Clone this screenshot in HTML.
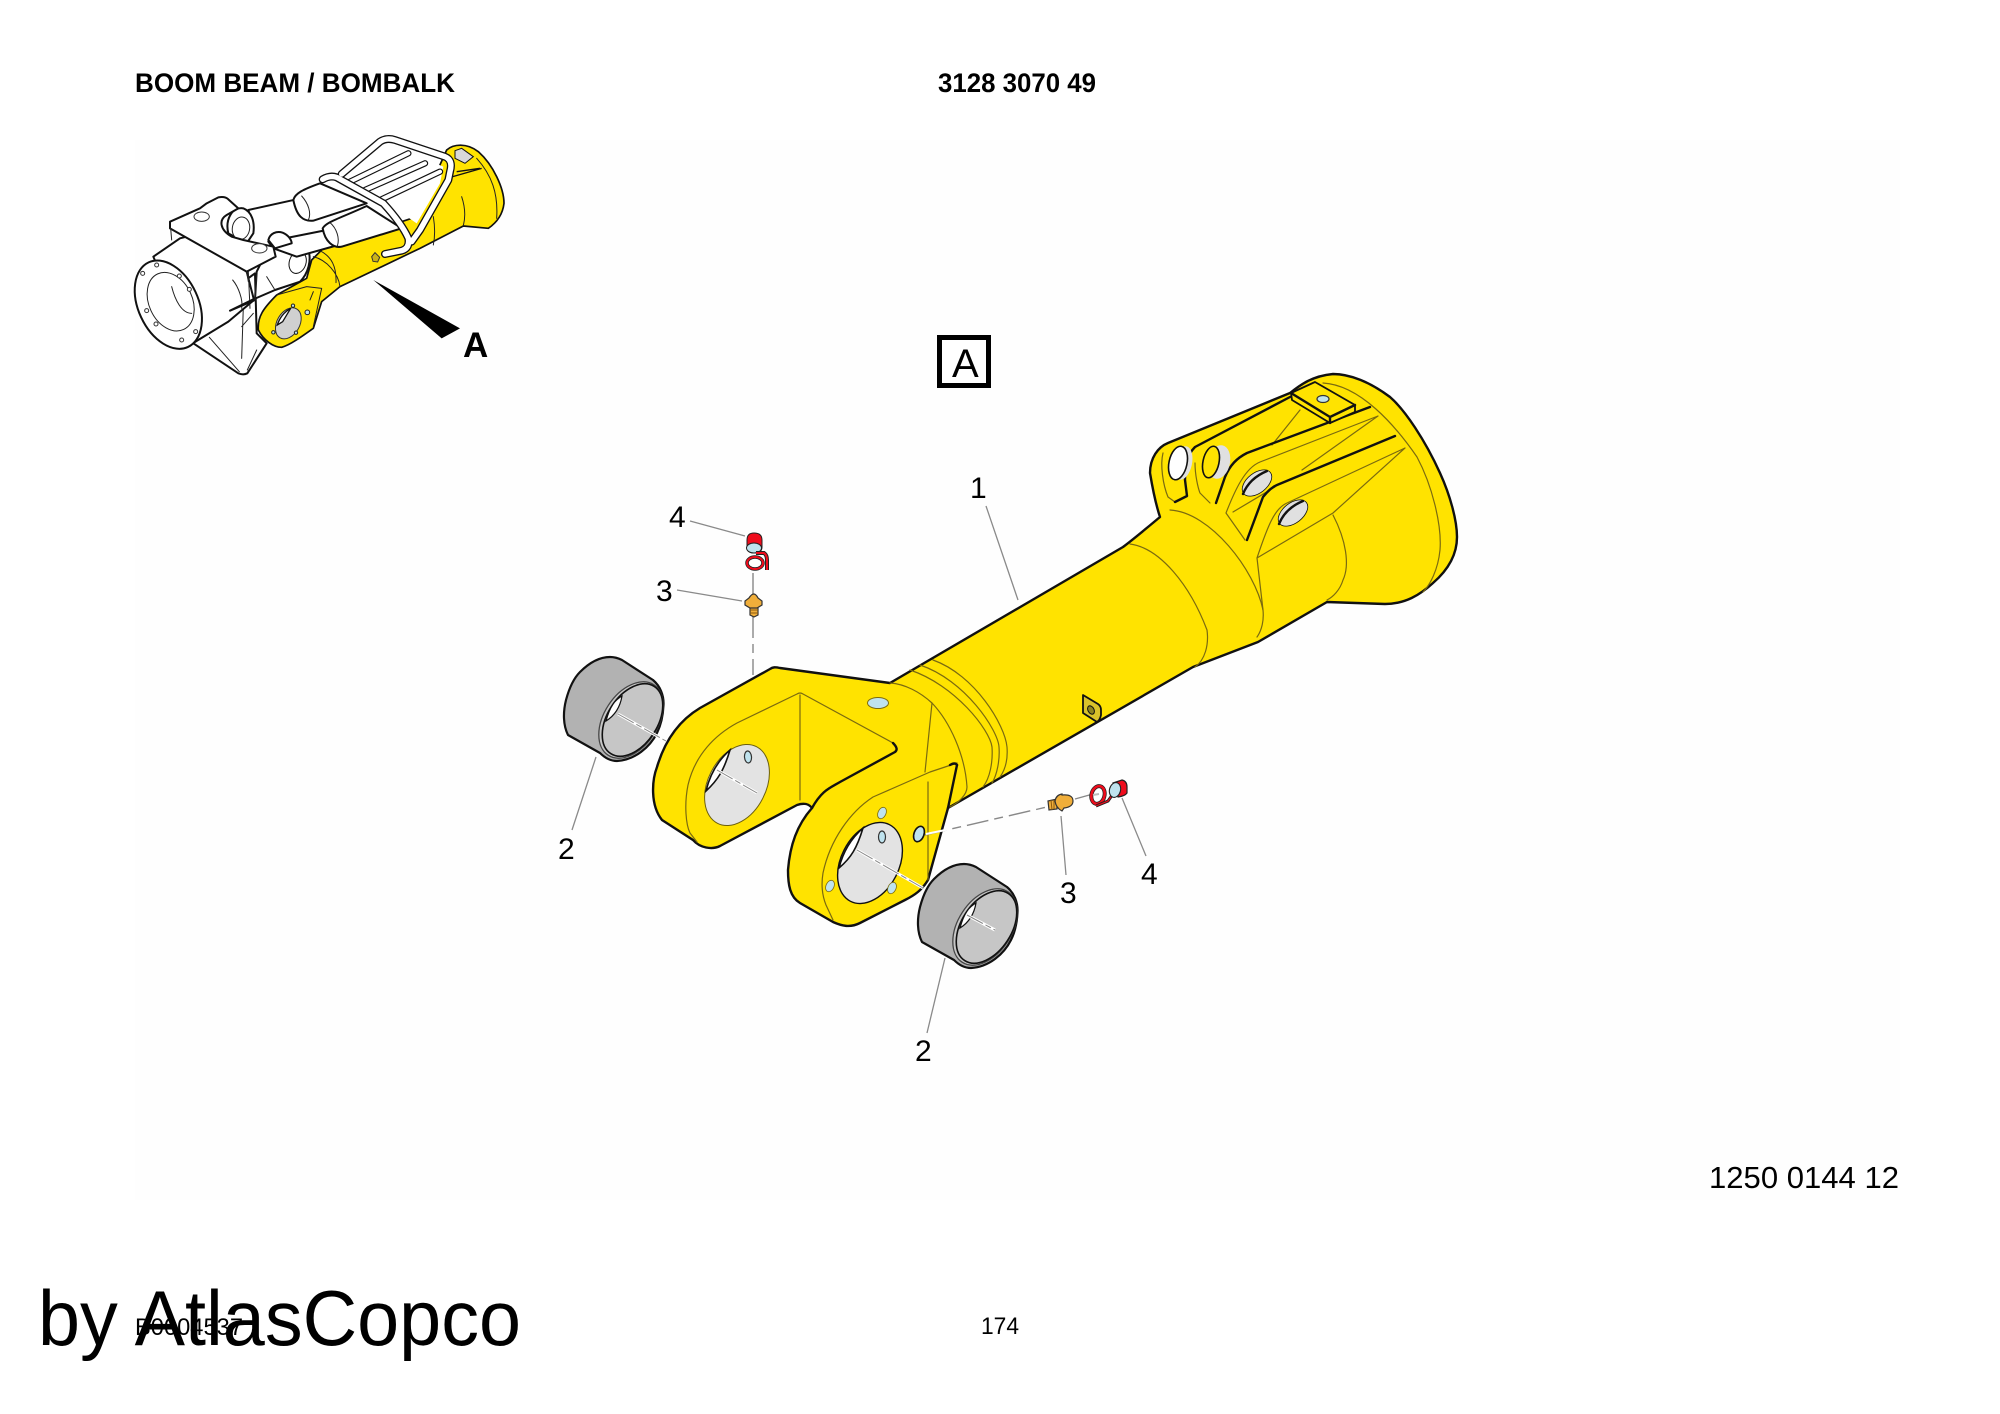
<!DOCTYPE html>
<html><head><meta charset="utf-8"><style>
html,body{margin:0;padding:0;background:#fff}
svg{display:block}
text{font-family:"Liberation Sans",sans-serif;fill:#000}
.b{fill:none;stroke:#111;stroke-width:2.4;stroke-linejoin:round;stroke-linecap:round}
.t{fill:none;stroke:#7a6a10;stroke-width:1.2;stroke-linecap:round;stroke-linejoin:round}
.l{stroke:#8a8a8a;stroke-width:1.3;fill:none}
.d{stroke:#888;stroke-width:1.4;fill:none;stroke-dasharray:22 6 9 6}
.w{stroke:#fff;stroke-width:3;fill:none}
.h{fill:#bfe3ee;stroke:#333;stroke-width:1.2}
.z{fill:#fff;stroke:#111;stroke-width:6;stroke-linejoin:round;stroke-linecap:round}
.y{fill:none;stroke:#222;stroke-width:3;stroke-linecap:round;stroke-linejoin:round}
.k{fill:none;stroke-linecap:round;stroke-linejoin:round}
</style></head><body>
<svg width="2000" height="1414" viewBox="0 0 2000 1414" xmlns="http://www.w3.org/2000/svg">
<rect width="2000" height="1414" fill="#fff"/>
<rect x="135" y="140" width="1765" height="1060" fill="#fefefe"/>

<text x="135" y="92" font-size="27" font-weight="bold" textLength="320" lengthAdjust="spacingAndGlyphs">BOOM BEAM / BOMBALK</text>
<text x="938" y="92" font-size="27" font-weight="bold" textLength="158" lengthAdjust="spacingAndGlyphs">3128 3070 49</text>
<text x="1709" y="1188" font-size="31" textLength="190" lengthAdjust="spacingAndGlyphs">1250 0144 12</text>
<text x="981" y="1334" font-size="24" textLength="38" lengthAdjust="spacingAndGlyphs">174</text>
<text x="135" y="1335" font-size="24" textLength="108" lengthAdjust="spacingAndGlyphs">B0004537</text>
<text x="38" y="1345" font-size="78" textLength="483" lengthAdjust="spacingAndGlyphs">by AtlasCopco</text>

<!-- Thumbnail drawn in 3x crop coordinates -->
<g transform="translate(100 100) scale(.33333)">
<path d="M1040 150C1060 132 1100 128 1135 155C1180 195 1212 265 1212 310C1208 345 1190 368 1165 385L1090 378L960 445L720 560L665 605L640 685C605 710 570 735 545 742C520 742 490 720 475 690C472 650 490 625 530 585L620 535L635 480L670 445L800 400L950 350Z" fill="#ffe300" stroke="#111" stroke-width="5" stroke-linejoin="round"/>
<path class="y" d="M1085 290C1095 320 1097 350 1090 377M1000 350C1005 380 1005 410 1000 435M640 470C680 480 715 520 720 560M660 452C695 470 710 500 708 548M1130 175C1175 225 1195 280 1190 355M530 585L620 560L665 565L640 680M640 575L630 600"/>
<path d="M1070 215L1140 205M1040 235L1145 205" stroke="#111" stroke-width="4" fill="none"/>
<path d="M1065 152L1085 145L1120 170L1095 190L1065 175Z" fill="#d8d8d8" stroke="#111" stroke-width="3"/>
<ellipse cx="565" cy="670" rx="34" ry="50" transform="rotate(30 565 670)" fill="#d0d0d0" stroke="#333" stroke-width="3"/>
<path d="M532 675C540 650 555 635 572 625L548 665Z" fill="#fff" stroke="#111" stroke-width="4"/>
<g fill="#bfe3ee" stroke="#222" stroke-width="3"><circle cx="622" cy="637" r="7"/><circle cx="579" cy="617" r="5"/><circle cx="520" cy="697" r="5"/><circle cx="588" cy="698" r="5"/></g>
<path d="M815 470l10-12 14 14-6 14-14-2z" fill="#c9b21a" stroke="#333" stroke-width="3"/>

<path class="z" d="M280 730L415 820Q430 826 442 820L500 730L470 700L465 520L300 640Z"/>
<path class="y" d="M328 712L418 815M425 775L430 620M442 810L470 750M425 680L460 640"/>
<path class="z" d="M160 470L240 415L300 400L440 515L462 600L385 665L270 735Z"/>
<path class="y" d="M398 540C415 560 430 600 425 625M445 515L450 625"/>
<path class="z" d="M390 632L460 598L525 570L600 545C625 520 635 480 625 450C615 425 585 425 560 432L500 455L470 515L465 600Z"/>
<ellipse cx="593" cy="487" rx="25" ry="34" transform="rotate(18 593 487)" class="z" style="stroke-width:3"/>
<path class="y" d="M470 525L465 600M500 530L525 570"/>
<ellipse cx="205" cy="614" rx="90" ry="140" transform="rotate(-25 205 614)" class="z"/>
<ellipse cx="212" cy="605" rx="65" ry="92" transform="rotate(-25 212 605)" fill="#fff" stroke="#222" stroke-width="3"/>
<path class="y" d="M215 560C225 600 245 640 275 640"/>
<g fill="#fff" stroke="#333" stroke-width="3"><circle cx="128" cy="520" r="6"/><circle cx="170" cy="495" r="6"/><circle cx="238" cy="528" r="6"/><circle cx="268" cy="568" r="6"/><circle cx="287" cy="695" r="6"/><circle cx="245" cy="720" r="6"/><circle cx="168" cy="672" r="6"/><circle cx="140" cy="632" r="6"/></g>
<path class="z" d="M445 330L590 298L610 350L465 400Z"/>
<path class="z" d="M440 395L640 300L690 400L505 450Z" style="stroke:none"/>
<path class="z" d="M580 300C585 280 610 268 660 250L800 310L640 362C610 365 590 350 580 300Z"/>
<path class="y" d="M605 288C625 310 635 340 625 360"/>
<path class="z" d="M505 425L690 388L715 435L590 470L520 445Z"/>
<path class="z" d="M668 385C680 365 720 355 800 318L905 385L725 440C700 445 675 425 668 385Z"/>
<path class="y" d="M690 368C710 385 720 415 712 438"/>
<path class="z" d="M385 400C375 360 395 320 430 325C455 335 465 365 460 400L440 430Z"/>
<ellipse cx="423" cy="385" rx="26" ry="34" transform="rotate(10 423 385)" fill="#fff" stroke="#222" stroke-width="3"/>
<path class="z" d="M210 365L300 325L320 310L355 292Q375 288 385 298L415 325L380 345C355 360 360 390 395 410L430 420L520 440L527 470L440 515L210 385Z"/>
<path class="z" d="M505 420C510 400 530 392 548 398C565 405 575 420 575 430L525 445Z"/>
<path class="y" d="M212 385L215 420M440 515L445 545"/>
<ellipse cx="305" cy="350" rx="23" ry="14" fill="#fff" stroke="#333" stroke-width="3"/>
<ellipse cx="478" cy="445" rx="23" ry="14" fill="#fff" stroke="#333" stroke-width="3"/>
<path d="M740 225L860 130L1030 200L1020 250L950 370L850 300Z" fill="#fff"/>
<g class="k">
<g stroke="#111" stroke-width="19"><path d="M750 245L925 160M795 270L975 190M845 298L1020 215"/></g>
<g stroke="#fff" stroke-width="12"><path d="M750 245L925 160M795 270L975 190M845 298L1020 215"/></g>
<g stroke="#111" stroke-width="24"><path d="M725 222L840 125Q860 112 885 120L1035 170Q1060 180 1050 215L1045 240L960 390L935 425"/><path d="M855 462L905 452Q930 445 925 415Q905 370 850 310L710 232Q690 225 668 238"/></g>
<g stroke="#fff" stroke-width="16"><path d="M725 222L840 125Q860 112 885 120L1035 170Q1060 180 1050 215L1045 240L960 390L935 425"/><path d="M855 462L905 452Q930 445 925 415Q905 370 850 310L710 232Q690 225 668 238"/></g>
</g>
<polygon points="820,540 1080,685 1025,715" fill="#000"/>
</g>
<text x="463" y="357" font-size="35" font-weight="bold">A</text>

<rect x="939.5" y="337.5" width="49" height="48" fill="#fff" stroke="#000" stroke-width="5"/>
<text x="952" y="377" font-size="40">A</text>

<path d="M890 683L1123 547C1135 538 1148 527 1160 517C1156 505 1152 485 1150 473C1150 458 1158 447 1168 443L1290 393C1300 385 1312 376 1333 374C1350 374 1370 382 1390 397C1405 410 1425 440 1440 473C1450 495 1457 520 1457 537C1457 555 1448 570 1433 583C1420 595 1405 604 1385 604L1327 602L1258 642L1193 667L948 808L928 880C922 890 915 895 905 900L860 923C850 928 842 926 833 922L800 903C790 897 788 885 788 870C790 845 797 825 812 808C808 803 803 803 797 805L720 846C712 850 700 848 693 840L662 820C650 805 652 780 657 767C665 740 680 720 700 708L770 669C773 667 775 667 780 668Z" fill="#ffe300" stroke="#111" stroke-width="2.4" stroke-linejoin="round"/>

<path class="t" d="M1130 544C1160 548 1190 585 1207 630C1209 645 1205 660 1195 667"/>
<path class="t" d="M1170 510C1210 512 1255 570 1263 610C1264 620 1262 630 1257 637"/>
<path class="t" d="M1333 515C1346 540 1350 565 1343 580C1340 590 1333 597 1327 600"/>
<path class="t" d="M1323 383C1360 385 1395 425 1417 457C1432 485 1442 525 1440 550C1438 570 1430 585 1423 592"/>
<path class="t" d="M933 660C975 675 1005 725 1007 747C1008 760 1005 770 1000 777"/>
<path class="t" d="M920 665C965 680 998 730 999 747C1000 760 997 775 992 783"/>
<path class="t" d="M910 670C955 685 990 730 992 747C993 762 990 778 983 787"/>
<path class="t" d="M890 683C905 684 920 692 932 703C950 722 965 755 967 787C967 795 958 803 950 807"/>
<path class="t" d="M932 703L925 772M928 782L928 880"/>
<path class="t" d="M893 743L803 694Q800 692 797 694L737 723C715 735 695 755 688 785C684 805 686 825 690 833L697 842"/>
<path class="t" d="M800 695L800 800"/>
<path class="t" d="M957 763L930 772L873 797C850 812 830 840 823 873C821 885 822 895 826 905L833 920"/>
<path class="t" d="M1272 445L1300 410M1302 470L1378 416L1260 462C1245 468 1235 490 1226 513L1245 540M1233 512L1275 487"/>
<path class="t" d="M1405 448L1287 503C1275 508 1268 525 1257 558L1333 513L1405 448M1257 558L1263 610"/>
<path class="t" d="M1163 453C1160 465 1163 485 1168 497L1175 502M1195 463C1195 475 1198 488 1200 493L1210 503"/>
<path class="b" d="M957 765L948 808"/>
<path class="b" stroke-width="1.4" d="M957 765Q955 762 950 765"/>
<path class="b" d="M812 808C822 790 830 788 840 782L895 752Q899 749 893 743"/>
<path class="b" stroke-width="2" d="M1175 502L1187 496L1185 480C1185 465 1187 455 1195 447L1290 397"/>
<path class="b" stroke-width="2" d="M1216 503L1225 477C1230 465 1237 458 1247 453L1370 407"/>
<path class="b" stroke-width="2" d="M1247 540L1263 497C1267 492 1272 487 1277 485L1395 436"/>
<path d="M1291 393L1315 382L1355 405L1355 412L1330 423L1292 400Z" fill="#ffe300" stroke="#111" stroke-width="1.8" stroke-linejoin="round"/>
<path class="b" stroke-width="1.4" d="M1291 393L1330 417L1355 405M1330 417L1330 423"/>
<ellipse cx="1323" cy="399" rx="6" ry="3.5" class="h"/>
<ellipse cx="1183" cy="463" rx="9" ry="17" transform="rotate(12 1183 463)" fill="#e0e0e0"/>
<ellipse cx="1178" cy="463" rx="9" ry="17" transform="rotate(12 1178 463)" fill="#fff" stroke="#111" stroke-width="1.6"/>
<ellipse cx="1219" cy="462" rx="11" ry="17" transform="rotate(12 1219 462)" fill="#e0e0e0"/>
<ellipse cx="1211" cy="462" rx="8" ry="16" transform="rotate(12 1211 462)" fill="#ffe300" stroke="#111" stroke-width="1.6"/>
<ellipse cx="1257" cy="483" rx="17" ry="10" transform="rotate(-38 1257 483)" fill="#e0e0e0" stroke="#111" stroke-width=".8"/>
<path class="b" stroke-width="1.6" d="M1243 494C1247 484 1255 476 1267 471"/>
<ellipse cx="1293" cy="513" rx="17" ry="10" transform="rotate(-38 1293 513)" fill="#e0e0e0" stroke="#111" stroke-width=".8"/>
<path class="b" stroke-width="1.6" d="M1279 524C1283 514 1291 506 1303 501"/>
<path d="M1083 695L1098 704Q1101 706 1101 710L1101 715Q1100 720 1097 722L1083 713Z" fill="#d9c22a" stroke="#111" stroke-width="1.8" stroke-linejoin="round"/>
<ellipse cx="1091" cy="710" rx="3" ry="4.5" transform="rotate(-30 1091 710)" fill="#8d8420" stroke="#111" stroke-width="1"/>

<ellipse cx="737" cy="785" rx="29" ry="43" transform="rotate(27 737 785)" fill="#e3e3e3" stroke="#6b5f10" stroke-width="1"/>
<path d="M706 791C711 770 722 757 730 750C724 770 718 780 706 791Z" fill="#fff" stroke="#111" stroke-width="1.6"/>
<ellipse cx="748" cy="757" rx="3.5" ry="6" transform="rotate(-5 748 757)" class="h"/>
<ellipse cx="870" cy="863" rx="29" ry="43" transform="rotate(27 870 863)" fill="#e3e3e3" stroke="#111" stroke-width="1.4"/>
<path d="M839 868C844 848 855 835 863 828C857 848 851 858 839 868Z" fill="#fff" stroke="#111" stroke-width="1.6"/>
<ellipse cx="882" cy="837" rx="3.5" ry="6" class="h"/>
<ellipse cx="882" cy="813" rx="4" ry="6" transform="rotate(25 882 813)" fill="#bfe3ee" stroke="#7a6a10" stroke-width=".8"/>
<ellipse cx="830" cy="886" rx="4" ry="6" transform="rotate(25 830 886)" fill="#bfe3ee" stroke="#7a6a10" stroke-width=".8"/>
<ellipse cx="892" cy="888" rx="4" ry="6" transform="rotate(25 892 888)" fill="#bfe3ee" stroke="#7a6a10" stroke-width=".8"/>
<ellipse cx="919" cy="834" rx="5" ry="8" transform="rotate(20 919 834)" fill="#bfe3ee" stroke="#111" stroke-width="1.6"/>
<ellipse cx="878" cy="703" rx="10.5" ry="5.5" fill="#bfe3ee" stroke="#7a6a10" stroke-width="1"/>

<g>
<path d="M568 735C563 725 563 712 566 700C570 685 575 677 580 672C590 662 600 657 610 657Q616 657 622 660L653 680C660 686 664 695 663.500 705C663 718 660 727 657 733C650 747 635 760 617 761Q608 761 600 753Z" fill="#b2b2b2" stroke="#111" stroke-width="2.2" stroke-linejoin="round"/>
<ellipse cx="631" cy="720" rx="27" ry="42" transform="rotate(33 631 720)" fill="#c6c6c6" stroke="#444" stroke-width="1.300"/>
<ellipse cx="632.500" cy="720" rx="25" ry="40" transform="rotate(33 632.500 720)" fill="#c6c6c6" stroke="#111" stroke-width="1.600"/>
<path d="M606 721C610 706 615 700 622 696C620 708 614 716 606 721Z" fill="#fff" stroke="#111" stroke-width="1.200"/>
</g>
<g transform="translate(354 207)">
<path d="M568 735C563 725 563 712 566 700C570 685 575 677 580 672C590 662 600 657 610 657Q616 657 622 660L653 680C660 686 664 695 663.500 705C663 718 660 727 657 733C650 747 635 760 617 761Q608 761 600 753Z" fill="#b2b2b2" stroke="#111" stroke-width="2.2" stroke-linejoin="round"/>
<ellipse cx="631" cy="720" rx="27" ry="42" transform="rotate(33 631 720)" fill="#c6c6c6" stroke="#444" stroke-width="1.300"/>
<ellipse cx="632.500" cy="720" rx="25" ry="40" transform="rotate(33 632.500 720)" fill="#c6c6c6" stroke="#111" stroke-width="1.600"/>
<path d="M606 721C610 706 615 700 622 696C620 708 614 716 606 721Z" fill="#fff" stroke="#111" stroke-width="1.200"/>
</g>

<path class="w" d="M618 714L666 741M717 770L757 793M857 850L923 888M967 915L995 930"/>
<path d="M618 714L666 741M717 770L757 793M857 850L923 888M967 915L995 930" stroke="#888" stroke-width="1" stroke-dasharray="18 3 6 3" fill="none"/>
<path class="d" d="M753 573L753 675"/>
<path class="d" d="M925 835L1047 807M1075 799L1093 794"/>
<path d="M926 834L950 829" stroke="#fff" stroke-width="2"/>

<path d="M747 540Q747 533 754 533Q762 533 762 540L762 547Q762 553 754 553Q747 553 747 547Z" fill="#ef0c1c" stroke="#222" stroke-width="1"/>
<ellipse cx="754" cy="548" rx="7.500" ry="5" fill="#bfe3ee" stroke="#222" stroke-width="1"/>
<path d="M756 553L764 553Q767 555 767 560L767 570" fill="none" stroke="#222" stroke-width="4"/>
<path d="M756 553L764 553Q767 555 767 560L767 570" fill="none" stroke="#ef0c1c" stroke-width="2"/>
<ellipse cx="755" cy="563" rx="8" ry="6" fill="#fff" stroke="#222" stroke-width="3.500"/>
<ellipse cx="755" cy="563" rx="8" ry="6" fill="none" stroke="#ef0c1c" stroke-width="2"/>
<path d="M750 615L750 606L758 606L758 615L754 617Z" fill="#f0ae3a" stroke="#333" stroke-width="1.200"/>
<path d="M749 598Q754 590 758 598L762 601L762 605L757 608L750 608L745 605L745 601Z" fill="#f0ae3a" stroke="#333" stroke-width="1.200"/>
<path d="M750 610L758 610M750 613L758 613" stroke="#8a5a10" stroke-width="1"/>
<path d="M1048 801L1057 799L1057 809L1049 810Z" fill="#f0ae3a" stroke="#333" stroke-width="1.200"/>
<path d="M1062 795Q1073 794 1073 801Q1073 807 1064 808L1062 811Q1056 808 1055 801Q1056 795 1062 794Z" fill="#f0ae3a" stroke="#333" stroke-width="1.200"/>
<path d="M1051 800L1052 810M1054 800L1054 809" stroke="#8a5a10" stroke-width="1"/>
<ellipse cx="1098" cy="795" rx="6.500" ry="9" transform="rotate(15 1098 795)" fill="#fff" stroke="#222" stroke-width="4"/>
<ellipse cx="1098" cy="795" rx="6.500" ry="9" transform="rotate(15 1098 795)" fill="none" stroke="#ef0c1c" stroke-width="2.600"/>
<path d="M1096 806L1108 801L1113 794" fill="none" stroke="#222" stroke-width="3"/>
<path d="M1096 806L1108 801L1113 794" fill="none" stroke="#ef0c1c" stroke-width="1.200"/>
<path d="M1093 795L1099 794" stroke="#bbb" stroke-width="2"/>
<path d="M1113 783L1122 780Q1127 781 1127 787L1127 793Q1125 796 1118 797Z" fill="#ef0c1c" stroke="#222" stroke-width="1.200"/>
<ellipse cx="1115" cy="790" rx="5.500" ry="7.500" transform="rotate(15 1115 790)" fill="#bfe3ee" stroke="#222" stroke-width="1.100"/>

<path class="l" d="M690 521L745 536M677 590L742 601M986 506L1018 600M596 757L572 830M945 958L927 1033M1061 816L1066 875M1122 798L1146 856"/>
<g font-size="30">
<text x="669" y="527">4</text>
<text x="656" y="601">3</text>
<text x="970" y="498">1</text>
<text x="558" y="859">2</text>
<text x="915" y="1061">2</text>
<text x="1060" y="903">3</text>
<text x="1141" y="884">4</text>
</g>
</svg>
</body></html>
